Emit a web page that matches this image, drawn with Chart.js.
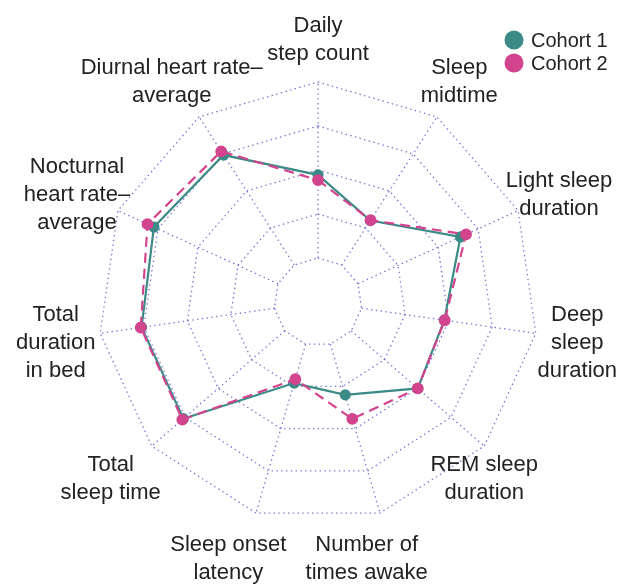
<!DOCTYPE html>
<html>
<head>
<meta charset="utf-8">
<script src="https://cdn.jsdelivr.net/npm/chart.js@4.4.1/dist/chart.umd.min.js"></script>
<style>
  body { margin: 0; background: #fff; }
  #wrap { width: 624px; height: 585px; position: relative; }
</style>
</head>
<body>
<div id="wrap"><canvas id="radarChart"></canvas></div>
<script>
// axis labels, clockwise from the top (one entry per line)
const axisLabels = [
  ["Daily", "step count"],
  ["Sleep", "midtime"],
  ["Light sleep", "duration"],
  ["Deep", "sleep", "duration"],
  ["REM sleep", "duration"],
  ["Number of", "times awake"],
  ["Sleep onset", "latency"],
  ["Total", "sleep time"],
  ["Total", "duration", "in bed"],
  ["Nocturnal", "heart rate\u2013", "average"],
  ["Diurnal heart rate\u2013", "average"],
];
const cohort1 = [2.89, 2.2, 3.56, 2.9, 3.0, 2.2, 1.92, 4.05, 4.05, 4.1, 3.97];
const cohort2 = [2.77, 2.21, 3.7, 2.91, 3.0, 2.77, 1.83, 4.08, 4.07, 4.26, 4.07];
const ringValues = [1, 2, 3, 4, 5];
const seriesNames = ["Cohort 1", "Cohort 2"];

const tealColor = "#3b8a86";
const pinkColor = "#d3448e";
const gridColor = "rgba(80, 80, 200, 0.8)";
const gridDash = [1.4, 3.4];
const textColor = "#222222";

// small x nudges for the bottom labels so they sit like the original
const labelNudgeX = [0, -2, 0, -3, -34, -26, -15, -7, 0, 0, -3];

const radarExtras = {
  id: "radarExtras",
  // spokes only between the inner ring and the outer ring
  beforeDatasetsDraw(chart) {
    const r = chart.scales.r;
    const ctx = chart.ctx;
    const inner = r.getDistanceFromCenterForValue(ringValues[0]);
    const outer = r.getDistanceFromCenterForValue(r.max);
    ctx.save();
    ctx.strokeStyle = gridColor;
    ctx.lineWidth = 1.3;
    ctx.setLineDash(gridDash);
    for (let i = 0; i < axisLabels.length; i++) {
      const a = r.getPointPosition(i, inner);
      const b = r.getPointPosition(i, outer);
      ctx.beginPath();
      ctx.moveTo(a.x, a.y);
      ctx.lineTo(b.x, b.y);
      ctx.stroke();
    }
    ctx.restore();
  },
  afterDraw(chart) {
    const r = chart.scales.r;
    const ctx = chart.ctx;
    const outer = r.getDistanceFromCenterForValue(r.max);
    const lineH = 28;
    ctx.save();
    ctx.fillStyle = textColor;
    ctx.font = "22px 'Liberation Sans', Arial, sans-serif";
    ctx.textAlign = "center";
    ctx.textBaseline = "middle";
    axisLabels.forEach((lines, i) => {
      const p = r.getPointPosition(i, outer + 45);
      const x = p.x + labelNudgeX[i];
      const y0 = p.y + 3 - ((lines.length - 1) * lineH) / 2;
      lines.forEach((t, k) => ctx.fillText(t, x, y0 + k * lineH));
    });

    // legend, top right
    const colors = [tealColor, pinkColor];
    ctx.font = "20px 'Liberation Sans', Arial, sans-serif";
    ctx.textAlign = "left";
    seriesNames.forEach((name, k) => {
      const y = 40 + k * 23;
      ctx.fillStyle = colors[k];
      ctx.beginPath();
      ctx.arc(514, y, 9.5, 0, Math.PI * 2);
      ctx.fill();
      ctx.fillStyle = textColor;
      ctx.fillText(name, 531, y + 1);
    });
    ctx.restore();
  },
};

new Chart(document.getElementById("radarChart"), {
  type: "radar",
  data: {
    labels: axisLabels,
    datasets: [
      {
        label: seriesNames[0],
        data: cohort1,
        borderColor: tealColor,
        backgroundColor: tealColor,
        pointBackgroundColor: tealColor,
        pointBorderColor: tealColor,
        borderWidth: 2.2,
        pointRadius: 4.5,
        fill: false,
        order: 1,
      },
      {
        label: seriesNames[1],
        data: cohort2,
        borderColor: pinkColor,
        backgroundColor: pinkColor,
        pointBackgroundColor: pinkColor,
        pointBorderColor: pinkColor,
        borderWidth: 2.2,
        borderDash: [10, 6],
        pointRadius: 4.8,
        fill: false,
        order: 0,
      },
    ],
  },
  options: {
    responsive: true,
    maintainAspectRatio: false,
    animation: false,
    layout: {
      padding: { left: 98, right: 86, top: 82, bottom: 63 },
    },
    plugins: {
      legend: { display: false },
      tooltip: { enabled: false },
    },
    elements: {
      line: { tension: 0 },
    },
    scales: {
      r: {
        min: 0,
        max: 5,
        ticks: { display: false, stepSize: 1 },
        pointLabels: { display: false },
        angleLines: { display: false },
        grid: { color: gridColor, lineWidth: 1.3, borderDash: gridDash },
        border: { dash: gridDash },
      },
    },
  },
  plugins: [radarExtras],
});
</script>
</body>
</html>
